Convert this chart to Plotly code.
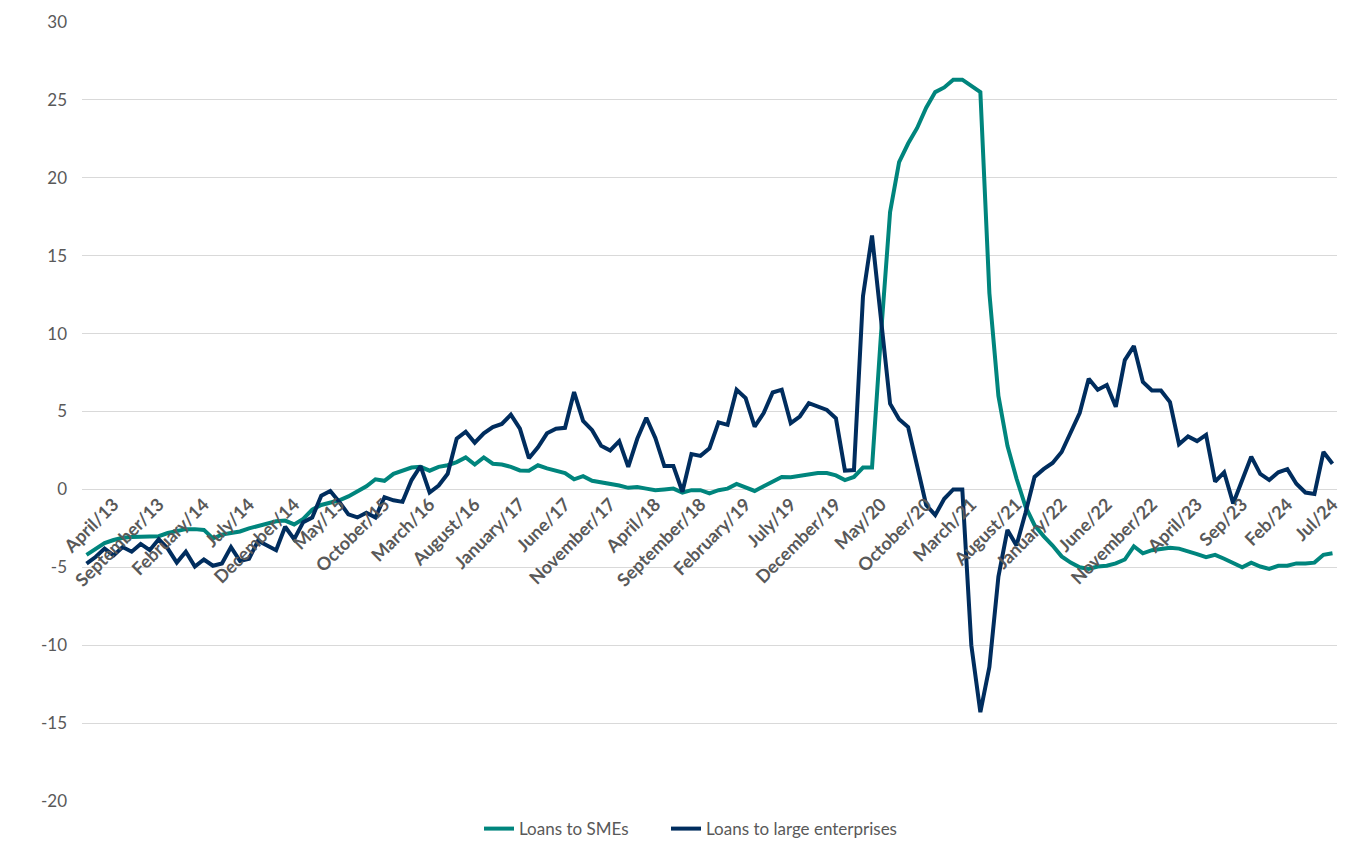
import pandas as pd
import plotly.graph_objects as go

# Monthly categories, January 2013 .. July 2024 (139 months)
months = pd.date_range("2013-01-01", periods=139, freq="MS").strftime("%Y-%m").tolist()

tick_labels = ["April/13", "September/13", "February/14", "July/14", "December/14",
               "May/15", "October/15", "March/16", "August/16", "January/17",
               "June/17", "November/17", "April/18", "September/18", "February/19",
               "July/19", "December/19", "May/20", "October/20", "March/21",
               "August/21", "January/22", "June/22", "November/22", "April/23",
               "Sep/23", "Feb/24", "Jul/24"]
tick_months = months[3::5]

loans_smes = [
    -4.2, -3.8, -3.45, -3.25, -3.1, -3.05, -3.05, -3.05, -3.0, -2.8,
    -2.65, -2.55, -2.55, -2.6, -3.15, -2.9, -2.8, -2.7, -2.5, -2.35,
    -2.2, -2.05, -2.0, -2.25, -1.9, -1.3, -1.0, -0.85, -0.7, -0.45,
    -0.1, 0.2, 0.65, 0.55, 1.0, 1.2, 1.4, 1.45, 1.2, 1.45,
    1.55, 1.75, 2.05, 1.6, 2.05, 1.65, 1.6, 1.45, 1.22, 1.2,
    1.55, 1.35, 1.2, 1.05, 0.65, 0.85, 0.55, 0.45, 0.38, 0.25,
    0.1, 0.15, 0.05, -0.05, 0.0, 0.05, -0.2, -0.05, -0.05, -0.25,
    -0.05, 0.05, 0.35, 0.15, -0.1, 0.2, 0.5, 0.8, 0.78, 0.85,
    0.95, 1.05, 1.05, 0.9, 0.6, 0.8, 1.4, 1.4, 10.0, 17.8,
    21.0, 22.2, 23.2, 24.5, 25.5, 25.8, 26.3, 26.3, 25.9, 25.5,
    12.6, 6.0, 2.8, 0.7, -1.1, -2.3, -3.0, -3.6, -4.3, -4.7,
    -5.0, -5.1, -4.95, -4.9, -4.75, -4.5, -3.65, -4.1, -3.9, -3.8,
    -3.75, -3.8, -3.95, -4.15, -4.35, -4.2, -4.45, -4.75, -5.0, -4.7,
    -4.95, -5.1, -4.9, -4.9, -4.75, -4.75, -4.7, -4.2, -4.1,
]

loans_large = [
    -4.77, -4.34, -3.8, -4.24, -3.7, -4.0, -3.5, -3.9, -3.2, -3.8,
    -4.7, -4.0, -4.95, -4.5, -4.9, -4.75, -3.7, -4.6, -4.45, -3.3,
    -3.6, -3.9, -2.4, -3.2, -2.1, -1.8, -0.4, -0.1, -0.8, -1.6,
    -1.8, -1.5, -1.8, -0.5, -0.7, -0.8, 0.6, 1.5, -0.2, 0.25,
    1.0, 3.25, 3.7, 3.0, 3.6, 4.0, 4.2, 4.8, 3.9, 2.0,
    2.7, 3.6, 3.9, 3.95, 6.25, 4.4, 3.8, 2.8, 2.5, 3.1,
    1.45, 3.25, 4.6, 3.3, 1.5, 1.5, -0.15, 2.27, 2.15, 2.64,
    4.3, 4.14, 6.4, 5.86, 4.03, 4.9, 6.22, 6.4, 4.25, 4.68,
    5.54, 5.32, 5.1, 4.57, 1.2, 1.24, 12.4, 16.3, 10.9, 5.5,
    4.5, 4.0, 1.5, -1.0, -1.65, -0.6, 0.0, 0.0, -10.0, -14.3,
    -11.4, -5.6, -2.6, -3.6, -1.5, 0.8, 1.3, 1.7, 2.4, 3.6,
    4.9, 7.1, 6.4, 6.7, 5.3, 8.3, 9.2, 6.9, 6.35, 6.35,
    5.6, 2.9, 3.4, 3.1, 3.5, 0.5, 1.1, -0.9, 0.6, 2.1,
    1.0, 0.6, 1.1, 1.3, 0.36, -0.2, -0.3, 2.4, 1.65,
]

y_ticks = [-20, -15, -10, -5, 0, 5, 10, 15, 20, 25, 30]
y_tick_labels = ["-20", "-15", "-10", "-5", "0", "5", "10", "15", "20", "25", "30"]

TEAL = "#00857D"
NAVY = "#002D5E"
GRAY = "#595959"

fig = go.Figure()
fig.add_trace(go.Scatter(x=months, y=loans_smes, mode="lines", name="Loans to SMEs",
                         line=dict(color=TEAL, width=4), legend="legend"))
fig.add_trace(go.Scatter(x=months, y=loans_large, mode="lines", name="Loans to large enterprises",
                         line=dict(color=NAVY, width=4), legend="legend2"))

legend_common = dict(orientation="h", xanchor="left", y=-0.036, yanchor="middle",
                     font=dict(size=17, color=GRAY), bgcolor="rgba(0,0,0,0)")

fig.update_layout(
    width=1371, height=858,
    paper_bgcolor="white", plot_bgcolor="white",
    margin=dict(l=74, r=42, t=14, b=65, autoexpand=False),
    font=dict(family="Lato", color=GRAY, size=16),
    showlegend=True,
    legend=dict(x=(479 - 82) / 1255, **legend_common),
    legend2=dict(x=(666 - 82) / 1255, **legend_common),
    xaxis=dict(
        type="category",
        range=[-0.5, len(months) - 0.5],
        tickmode="array", tickvals=tick_months, ticktext=tick_labels,
        tickangle=-45,
        tickfont=dict(family="Lato", size=18, color=GRAY, weight="bold"),
        showgrid=False, showline=False, ticks="", zeroline=False,
        anchor="free", position=0.4,
        layer="above traces",
    ),
    yaxis=dict(
        range=[-20, 30],
        tickmode="array", tickvals=y_ticks, ticktext=y_tick_labels,
        showgrid=True, gridcolor="#D9D9D9", gridwidth=1.3,
        zeroline=False, showline=False, ticks="",
        tickfont=dict(family="Lato", size=17, color=GRAY),
        ticklabelstandoff=14,
    ),
)

fig.write_html("out.html")
